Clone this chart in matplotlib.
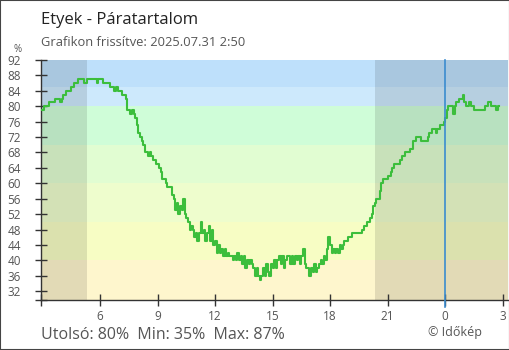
import numpy as np
import matplotlib.pyplot as plt
from matplotlib.patches import Rectangle

plt.rcParams['font.family'] = ['Open Sans', 'DejaVu Sans']

# relative humidity (%), 5-minute readings from 2:50 to 2:50 next day, one row = 1 hour
start_hour = 2 + 50 / 60
humidity = [
    79, 79, 79, 80, 80, 80, 81, 81, 81, 81, 82, 82,
    82, 81, 82, 83, 83, 84, 84, 84, 85, 85, 86, 86,
    87, 87, 87, 87, 86, 86, 87, 87, 87, 87, 87, 87,
    86, 87, 87, 87, 86, 86, 86, 86, 85, 85, 85, 84,
    85, 84, 84, 84, 83, 83, 82, 79, 79, 78, 79, 78,
    77, 75, 73, 72, 71, 70, 68, 68, 67, 68, 67, 66,
    66, 65, 65, 64, 63, 61, 61, 60, 59, 59, 59, 57,
    56, 53, 55, 52, 54, 53, 56, 52, 51, 50, 48, 49,
    48, 46, 47, 45, 47, 50, 47, 48, 45, 47, 49, 45,
    48, 44, 45, 42, 44, 42, 43, 41, 43, 41, 42, 41,
    41, 40, 41, 40, 42, 40, 41, 39, 41, 38, 40, 39,
    40, 39, 38, 36, 38, 36, 35, 36, 38, 36, 39, 37,
    36, 39, 38, 40, 38, 40, 41, 39, 41, 38, 40, 41,
    41, 39, 41, 39, 41, 40, 41, 39, 41, 43, 39, 38,
    38, 36, 38, 37, 39, 37, 38, 39, 40, 39, 41, 40,
    43, 46, 44, 42, 43, 42, 43, 42, 44, 43, 44, 45,
    45, 46, 46, 46, 47, 47, 47, 47, 47, 47, 48, 49,
    49, 50, 50, 51, 52, 54, 55, 56, 56, 58, 60, 61,
    61, 61, 62, 62, 63, 64, 65, 65, 65, 65, 66, 67,
    67, 68, 68, 68, 69, 69, 71, 71, 72, 72, 72, 71,
    71, 71, 71, 72, 73, 73, 74, 74, 73, 74, 74, 75,
    75, 76, 77, 79, 80, 80, 80, 78, 80, 81, 81, 82,
    82, 83, 81, 80, 80, 81, 80, 80, 79, 79, 79, 79,
    79, 79, 79, 80, 80, 81, 81, 80, 80, 80, 79, 80,
    80,
]
times = start_hour + np.arange(len(humidity)) / 12

band_edges = [0, 40, 50, 60, 70, 80, 85, 100]
band_colors = ['#fef6cd', '#f7fdc4', '#eefdcd', '#e1fdd2', '#cffdd8', '#cde9fc', '#bee0fb']

sunrise = 5 + 20 / 60
sunset = 20 + 20 / 60

xticks = [6, 9, 12, 15, 18, 21, 24, 27]
xlabels = ['6', '9', '12', '15', '18', '21', '0', '3']
yticks = list(range(32, 93, 4))

xmin, xmax = 2.92, 27.28
ymin, ymax = 29.7, 92

fig = plt.figure(figsize=(5.1, 3.5), dpi=100)
ax = fig.add_axes([41 / 510, 50 / 350, 467 / 510, 240 / 350])

for lo, hi, c in zip(band_edges[:-1], band_edges[1:], band_colors):
    ax.axhspan(lo, hi, color=c, lw=0, zorder=0)
ax.axvspan(xmin, sunrise, color='black', alpha=0.11, lw=0, zorder=1)
ax.axvspan(sunset, xmax, color='black', alpha=0.11, lw=0, zorder=1)

ax.plot(times, humidity, drawstyle='steps-post', color='#3cbe3c', lw=1.5, zorder=3)
ax.axvline(24, color='#3b8ccf', lw=1.2, ymin=-0.03, clip_on=False, zorder=4)

ax.set_xlim(xmin, xmax)
ax.set_ylim(ymin, ymax)
ax.set_xticks(xticks)
ax.set_xticklabels(xlabels)
ax.set_yticks(yticks)
ax.set_xticks([xmin], minor=True)
ax.set_yticks([ymin], minor=True)

for s in ['top', 'right']:
    ax.spines[s].set_visible(False)
for s in ['left', 'bottom']:
    ax.spines[s].set_color('#333333')
    ax.spines[s].set_linewidth(1)

ax.tick_params(axis='both', which='both', direction='inout', length=9, width=1,
               color='#333333', labelcolor='#555555', labelsize=8.5)
ax.tick_params(axis='y', which='major', pad=10)
ax.tick_params(axis='x', which='major', pad=3)

fig.text(17.5 / 510, 1 - 50 / 350, '%', fontsize=7, color='#555555', ha='center', va='center')

fig.text(41 / 510, 1 - 24 / 350, 'Etyek - Páratartalom', fontsize=12, color='#222222',
         ha='left', va='baseline')
fig.text(41 / 510, 1 - 45.5 / 350, 'Grafikon frissítve: 2025.07.31 2:50', fontsize=9.3,
         color='#555555', ha='left', va='baseline')
fig.text(41 / 510, 1 - 339 / 350, 'Utolsó: 80%  Min: 35%  Max: 87%', fontsize=11.5,
         color='#555555', ha='left', va='baseline')
fig.text(482 / 510, 1 - 336 / 350, '© Időkép', fontsize=9, color='#555555',
         ha='right', va='baseline')

fig.patches.append(Rectangle((0, 0), 1, 1, transform=fig.transFigure, fill=False,
                             edgecolor='#444444', lw=1.5, zorder=10))

fig.savefig('out.png', dpi=100)
